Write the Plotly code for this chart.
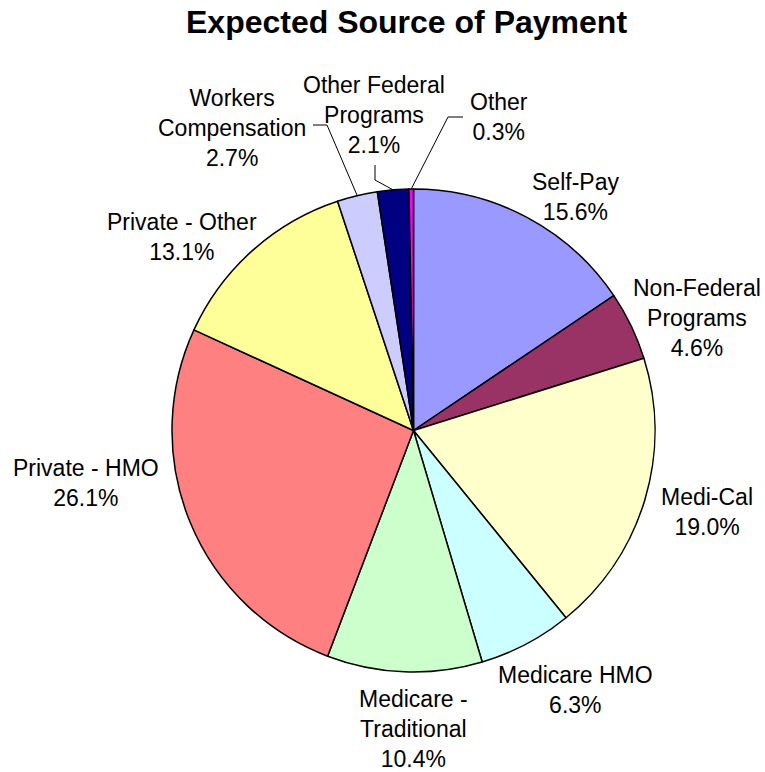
import math
import plotly.graph_objects as go

# ---- data ----
categories = ["Self-Pay", "Non-Federal Programs", "Medi-Cal", "Medicare HMO",
              "Medicare - Traditional", "Private - HMO", "Private - Other",
              "Workers Compensation", "Other Federal Programs", "Other"]
percents = [15.6, 4.6, 19.0, 6.3, 10.4, 26.1, 13.1, 2.7, 2.1, 0.3]
colors = ["#9999FF", "#993366", "#FFFFCC", "#CCFFFF", "#CCFFCC",
          "#FF8080", "#FFFF99", "#CCCCFF", "#000080", "#FF00FF"]
title = "Expected Source of Payment"

# ---- layout / style (pixels) ----
W, H = 765, 772
CX, CY, R = 413.5, 430.5, 241.5
FONT = "Liberation Sans, Arial, sans-serif"

label_text = {
    "Self-Pay": "Self-Pay",
    "Non-Federal Programs": "Non-Federal<br>Programs",
    "Medi-Cal": "Medi-Cal",
    "Medicare HMO": "Medicare HMO",
    "Medicare - Traditional": "Medicare -<br>Traditional",
    "Private - HMO": "Private - HMO",
    "Private - Other": "Private - Other",
    "Workers Compensation": "Workers<br>Compensation",
    "Other Federal Programs": "Other Federal<br>Programs",
    "Other": "Other",
}
label_pos = {
    "Self-Pay": (575, 197),
    "Non-Federal Programs": (697, 318),
    "Medi-Cal": (707, 512),
    "Medicare HMO": (575, 690),
    "Medicare - Traditional": (413, 729),
    "Private - HMO": (86, 483),
    "Private - Other": (182, 237),
    "Workers Compensation": (232, 128),
    "Other Federal Programs": (374, 115),
    "Other": (499, 117),
}
# leader line anchor points near labels (label side), in px
leader_pts = {
    "Workers Compensation": [(313, 125), (327, 125)],
    "Other Federal Programs": [(375, 165), (375, 180)],
    "Other": [(463, 117), (448, 117)],
}


def px(x):
    return x / W


def py(y):
    return 1 - y / H


fig = go.Figure()
fig.add_trace(go.Pie(
    labels=categories,
    values=percents,
    sort=False,
    direction="clockwise",
    rotation=0,
    marker=dict(colors=colors, line=dict(color="black", width=1.5)),
    textinfo="none",
    hoverinfo="label+value",
    showlegend=False,
    domain=dict(x=[px(CX - R), px(CX + R)], y=[py(CY + R), py(CY - R)]),
))

total = sum(percents)
cum = 0.0
annotations = []
shapes = []
for cat, v in zip(categories, percents):
    mid = (cum + v / 2) / total * 2 * math.pi
    cum += v
    lx, ly = label_pos[cat]
    annotations.append(dict(
        x=px(lx), y=py(ly), xref="paper", yref="paper",
        text=f"{label_text[cat]}<br>{v:.1f}%",
        showarrow=False, xanchor="center", yanchor="middle",
        font=dict(family=FONT, size=23, color="black"),
    ))
    if cat in leader_pts:
        ex = CX + R * math.sin(mid)
        ey = CY - R * math.cos(mid)
        pts = leader_pts[cat] + [(ex, ey)]
        path = "M " + " L ".join(f"{px(a)},{py(b)}" for a, b in pts)
        shapes.append(dict(type="path", path=path, xref="paper", yref="paper",
                           line=dict(color="black", width=1)))

annotations.append(dict(
    x=px(406), y=py(22), xref="paper", yref="paper",
    text=f"<b>{title}</b>", showarrow=False, xanchor="center", yanchor="middle",
    font=dict(family=FONT, size=32, color="black"),
))

fig.update_layout(
    width=W, height=H,
    margin=dict(l=0, r=0, t=0, b=0),
    paper_bgcolor="white", plot_bgcolor="white",
    annotations=annotations, shapes=shapes,
)

fig.write_html("out.html",
               config={"displayModeBar": False},
               post_script="document.body.style.margin='0px';document.body.style.padding='0px';")
